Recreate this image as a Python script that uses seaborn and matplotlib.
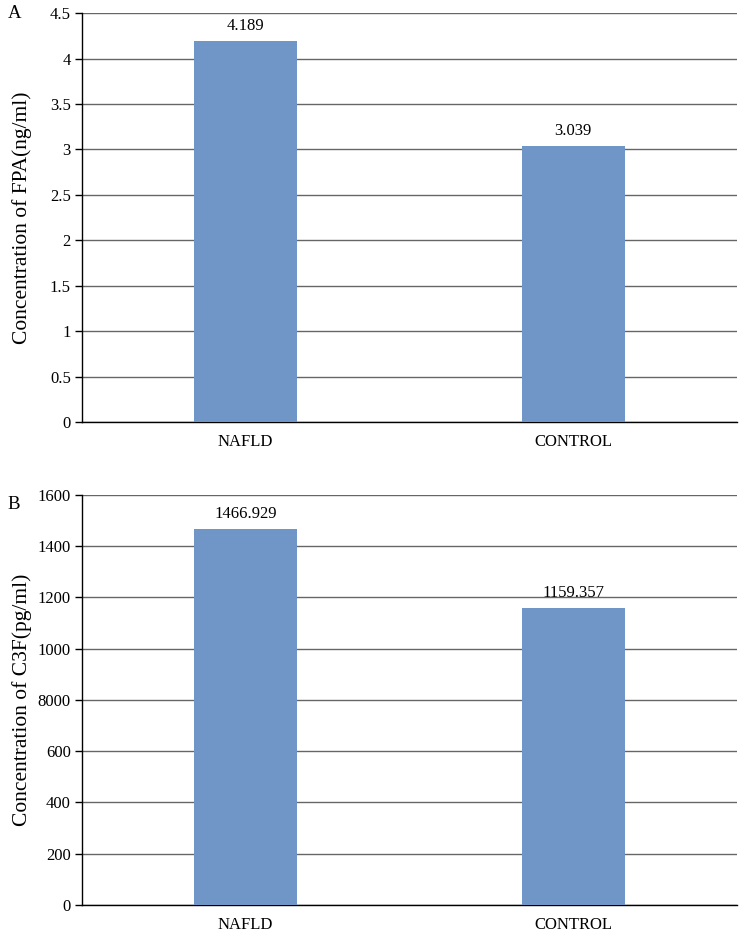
import matplotlib
matplotlib.use("Agg")
import matplotlib.pyplot as plt
import numpy as np
import pandas as pd
import seaborn as sns

# data
groups = ["NAFLD", "CONTROL"]
fpa_values = [4.189, 3.039]
c3f_values = [1466.929, 1159.357]

fpa_ticks = [0, 0.5, 1, 1.5, 2, 2.5, 3, 3.5, 4, 4.5]
fpa_tick_labels = ["0", "0.5", "1", "1.5", "2", "2.5", "3", "3.5", "4", "4.5"]
c3f_ticks = [0, 200, 400, 600, 800, 1000, 1200, 1400, 1600]
c3f_tick_labels = ["0", "200", "400", "600", "8000", "1000", "1200", "1400", "1600"]

BAR_COLOR = "#7095C7"


def setup_plot_style() -> None:
    sns.set_theme(style="white")
    plt.rcParams.update(
        {
            "font.family": ["Liberation Serif", "DejaVu Serif"],
            "axes.edgecolor": "black",
            "axes.linewidth": 1.0,
            "text.color": "black",
            "axes.labelcolor": "black",
            "xtick.color": "black",
            "ytick.color": "black",
        }
    )


def draw_panel(ax, values, ticks, tick_labels, ylabel):
    df = pd.DataFrame({"Group": groups, "Value": values})
    sns.barplot(data=df, x="Group", y="Value", color=BAR_COLOR, width=0.315,
                saturation=1, ax=ax, zorder=3, linewidth=0)
    ax.set_xlim(-0.5, 1.5)
    ax.set_ylim(ticks[0], ticks[-1])
    ax.set_yticks(ticks)
    ax.set_yticklabels(tick_labels)
    ax.yaxis.grid(True, color="#666666", linewidth=1.0, zorder=0)
    ax.set_axisbelow(True)
    for side in ("top", "right"):
        ax.spines[side].set_visible(False)
    ax.tick_params(axis="y", left=True, length=5, width=1.0, labelsize=12, pad=3)
    ax.tick_params(axis="x", bottom=False, length=0, labelsize=12, pad=9)
    ax.set_xlabel("")
    ax.set_ylabel(ylabel, fontsize=15.5)
    ax.yaxis.set_label_coords(-0.077, 0.5)
    for i, v in enumerate(values):
        ax.annotate(f"{v:.3f}", (i, v), xytext=(0, 5), textcoords="offset points",
                    ha="center", va="bottom", fontsize=12)


def main() -> None:
    setup_plot_style()
    fig = plt.figure(figsize=(7.42, 9.35), dpi=100)
    ax_a = fig.add_axes([0.1105, 0.5487, 0.8825, 0.4373])
    ax_b = fig.add_axes([0.1105, 0.0321, 0.8825, 0.4385])

    draw_panel(ax_a, fpa_values, fpa_ticks, fpa_tick_labels,
               "Concentration of FPA(ng/ml)")
    draw_panel(ax_b, c3f_values, c3f_ticks, c3f_tick_labels,
               "Concentration of C3F(pg/ml)")

    fig.text(0.01, 0.986, "A", fontsize=13.5, va="center", ha="left")
    fig.text(0.01, 0.46, "B", fontsize=13.5, va="center", ha="left")

    fig.savefig("out.png", dpi=100, facecolor="white")
    plt.close(fig)


if __name__ == "__main__":
    main()
